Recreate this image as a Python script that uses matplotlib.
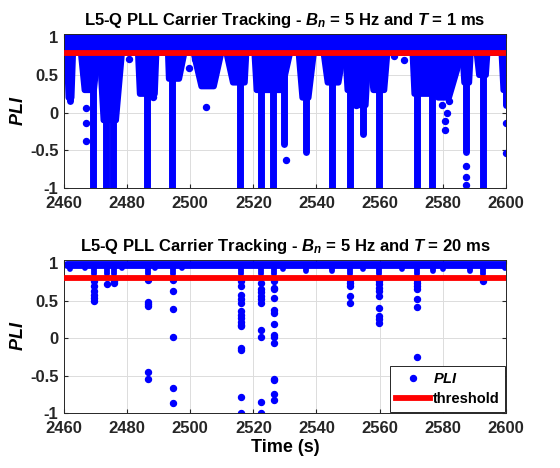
import matplotlib
matplotlib.use('Agg')
import matplotlib.pyplot as plt
from matplotlib.lines import Line2D

plt.rcParams['font.family'] = ['Liberation Sans', 'DejaVu Sans']
plt.rcParams['font.weight'] = 'bold'
plt.rcParams['mathtext.fontset'] = 'custom'
plt.rcParams['mathtext.it'] = 'Liberation Sans:italic:bold'
plt.rcParams['mathtext.rm'] = 'Liberation Sans:bold'
plt.rcParams['mathtext.bf'] = 'Liberation Sans:bold'

# ---- shared ----
t_span = [2461, 2600.3]
threshold = 0.8
xticks = [2460, 2480, 2500, 2520, 2540, 2560, 2580, 2600]
yticks = [-1, -0.5, 0, 0.5, 1]
ytick_labels = ['-1', '-0.5', '0', '0.5', '1']

# ---- T = 1 ms (dense PLI, read as dips hanging below the ~1 band) ----
band1_lo, band1_hi = 0.8, 1.0
# dense lobes: top-left, top-right, bottom-left, bottom-right, bottom value
lobe_tl = [2460.9, 2465.3, 2471.3, 2483.4, 2492.9, 2501.0, 2511.4, 2520.3,
           2534.3, 2542.2, 2549.1, 2551.6, 2556.5, 2570.4, 2577.8, 2586.2,
           2590.7, 2598.6]
lobe_tr = [2462.9, 2470.8, 2478.4, 2489.3, 2498.2, 2509.9, 2517.8, 2531.7,
           2539.2, 2548.6, 2552.1, 2556.5, 2562.5, 2577.8, 2586.2, 2588.9,
           2594.2, 2600.3]
lobe_bl = [2461.4, 2466.5, 2472.5, 2484.0, 2493.2, 2503.5, 2513.5, 2521.0,
           2535.5, 2543.5, 2549.8, 2552.2, 2558.0, 2571.0, 2578.5, 2586.8,
           2591.5, 2599.2]
lobe_br = [2462.4, 2469.5, 2476.5, 2488.8, 2496.5, 2507.5, 2517.3, 2529.0,
           2537.5, 2547.0, 2551.5, 2555.6, 2561.5, 2577.2, 2582.0, 2588.4,
           2593.7, 2600.2]
lobe_y = [0.2, 0.3, -0.1, 0.25, 0.45, 0.35, 0.4, 0.3,
          0.2, 0.4, 0.3, 0.1, 0.3, 0.25, 0.2, 0.4,
          0.5, 0.3]
# columns of points reaching down to a low value
stem_t = [2461.8, 2469.3, 2473.3, 2475.5, 2486.3, 2494.3, 2515.8, 2522.3,
          2526.1, 2529.8, 2536.7, 2545.0, 2550.6, 2554.6, 2559.8, 2571.9,
          2576.6, 2587.5, 2592.7, 2600.0]
stem_lo = [0.16, -1, -1, -1, -1, -1, -1, -1,
           -1, -0.42, -0.52, -1, -1, -0.28, -1, -1,
           -1, -0.52, -1, 0.1]
# isolated points
out1_t = [2467.1, 2467.0, 2467.0, 2480.5, 2484.4, 2488.1, 2499.5, 2501.5,
          2505.1, 2513.4, 2518.3, 2530.2, 2552.6, 2554.0, 2564.5, 2567.7,
          2579.8, 2580.8, 2580.6, 2581.5, 2582.0, 2587.5, 2587.5, 2587.5,
          2590.0, 2600.0, 2600.0]
out1_y = [0.07, -0.13, -0.38, 0.72, 0.3, 0.21, 0.6, 0.72,
          0.08, 0.46, 0.84, -0.63, 0.1, 0.12, 0.75, 0.7,
          0.1, -0.11, -0.23, 0.0, 0.15, -0.7, -0.85, -0.96,
          0.84, -0.13, -0.54]

# ---- T = 20 ms ----
band2_lo, band2_hi = 0.965, 0.995
# shallow dips of the top band
bdip_t = [2462.0, 2466.5, 2469.6, 2473.7, 2475.8, 2478.3, 2486.5, 2488.7,
          2494.5, 2497.5, 2516.0, 2522.4, 2526.5, 2529.3, 2536.7, 2545.0,
          2550.6, 2554.6, 2559.8, 2567.0, 2571.9, 2576.8, 2580.0, 2588.7,
          2592.7, 2599.6]
bdip_y = [0.92, 0.93, 0.85, 0.85, 0.85, 0.93, 0.85, 0.93,
          0.85, 0.94, 0.85, 0.85, 0.85, 0.92, 0.9, 0.9,
          0.85, 0.92, 0.85, 0.92, 0.85, 0.9, 0.92, 0.9,
          0.85, 0.93]
# points below the band, grouped by epoch
drop_t = [2469.6, 2473.7, 2475.8, 2486.5, 2494.5, 2516.0, 2522.4, 2526.5,
          2550.6, 2559.8, 2571.9, 2592.7]
drop_y = [
    [0.76, 0.69, 0.63, 0.57, 0.54, 0.49],
    [0.72],
    [0.74, 0.76],
    [0.78, 0.48, 0.45, 0.43, -0.45, -0.55],
    [0.78, 0.63, 0.39, 0.01, -0.67, -0.86],
    [0.76, 0.7, 0.58, 0.52, 0.47, 0.36, 0.31, 0.27, 0.22, 0.18, 0.16,
     -0.13, -0.16, -0.78, -1.0],
    [0.74, 0.66, 0.61, 0.56, 0.52, 0.47, 0.11, 0.02, -0.85, -1.0],
    [0.76, 0.67, 0.65, 0.54, 0.37, 0.34, 0.19, 0.04, 0.01, -0.06,
     -0.54, -0.56, -0.75, -0.83],
    [0.78, 0.74, 0.69, 0.56, 0.47],
    [0.76, 0.72, 0.67, 0.63, 0.56, 0.4, 0.29, 0.25, 0.2],
    [0.78, 0.74, 0.7, 0.65, 0.52, 0.42, -0.25],
    [0.76],
]

blue = (0, 0, 1)
red = (1, 0, 0)
ms = 4.3
lw_pts = 4.2
lw_stem = 5.0

fig = plt.figure(figsize=(5.6, 4.68), dpi=100)
ax1 = fig.add_axes([0.1143, 0.598, 0.789, 0.33])
ax2 = fig.add_axes([0.1143, 0.1175, 0.789, 0.328])


def style(ax, title):
    ax.set_xlim(2460, 2600)
    ax.set_ylim(-1, 1.05)
    ax.set_xticks(xticks)
    ax.set_yticks(yticks)
    ax.set_yticklabels(ytick_labels)
    ax.tick_params(direction='in', length=3, labelsize=12, colors='#262626',
                   top=True, right=True)
    ax.tick_params(axis='x', pad=6)
    ax.tick_params(axis='y', pad=4)
    for lab in ax.get_xticklabels() + ax.get_yticklabels():
        lab.set_fontweight('bold')
    ax.grid(True, color='#dcdcdc', lw=0.7)
    ax.set_axisbelow(True)
    for sp in ax.spines.values():
        sp.set_color('#262626')
        sp.set_linewidth(0.7)
    ax.set_title(title, fontsize=12, fontweight='bold', pad=6)
    ax.set_ylabel('$PLI$', fontsize=13, labelpad=2)


# top panel
ax1.fill([t_span[0], t_span[1], t_span[1], t_span[0]],
         [band1_lo, band1_lo, band1_hi, band1_hi],
         facecolor=blue, edgecolor=blue, lw=lw_pts, joinstyle='round', zorder=2)
for tl, tr, bl, br, y in zip(lobe_tl, lobe_tr, lobe_bl, lobe_br, lobe_y):
    ax1.fill([tl, tr, br, bl], [band1_lo, band1_lo, y, y], facecolor=blue,
             edgecolor=blue, lw=lw_pts, joinstyle='round', zorder=2)
for t, lo in zip(stem_t, stem_lo):
    ax1.plot([t, t], [band1_lo, lo], color=blue, lw=lw_stem,
             solid_capstyle='round', zorder=2)
ax1.plot(out1_t, out1_y, 'o', color=blue, ms=ms, zorder=2)
ax1.plot(t_span, [threshold, threshold], color=red, lw=4.2, zorder=3)
style(ax1, r'L5-Q PLL Carrier Tracking - $B_n$ = 5 Hz and $T$ = 1 ms')

# bottom panel
ax2.fill([t_span[0], t_span[1], t_span[1], t_span[0]],
         [band2_lo, band2_lo, band2_hi, band2_hi],
         facecolor=blue, edgecolor=blue, lw=lw_pts, joinstyle='round', zorder=2)
for t, lo in zip(bdip_t, bdip_y):
    ax2.plot([t, t], [band2_lo, lo], color=blue, lw=lw_pts,
             solid_capstyle='round', zorder=2)
for t, ys in zip(drop_t, drop_y):
    ax2.plot([t] * len(ys), ys, 'o', color=blue, ms=ms, zorder=2)
ax2.plot(t_span, [threshold, threshold], color=red, lw=4.2, zorder=3)
style(ax2, r'L5-Q PLL Carrier Tracking - $B_n$ = 5 Hz and $T$ = 20 ms')
ax2.set_xlabel('Time (s)', fontsize=13, fontweight='bold', labelpad=2)

handles = [Line2D([], [], ls='none', marker='o', color=blue, ms=ms),
           Line2D([], [], color=red, lw=4.2)]
leg = ax2.legend(handles, ['$PLI$', 'threshold'], loc='lower right',
                 fontsize=10.5, handlelength=2.3, frameon=True, fancybox=False,
                 edgecolor='#262626', framealpha=1, borderaxespad=0.05,
                 borderpad=0.4, labelspacing=0.45, handletextpad=0.2)
leg.get_frame().set_linewidth(0.7)

fig.savefig('out.png', dpi=100)
